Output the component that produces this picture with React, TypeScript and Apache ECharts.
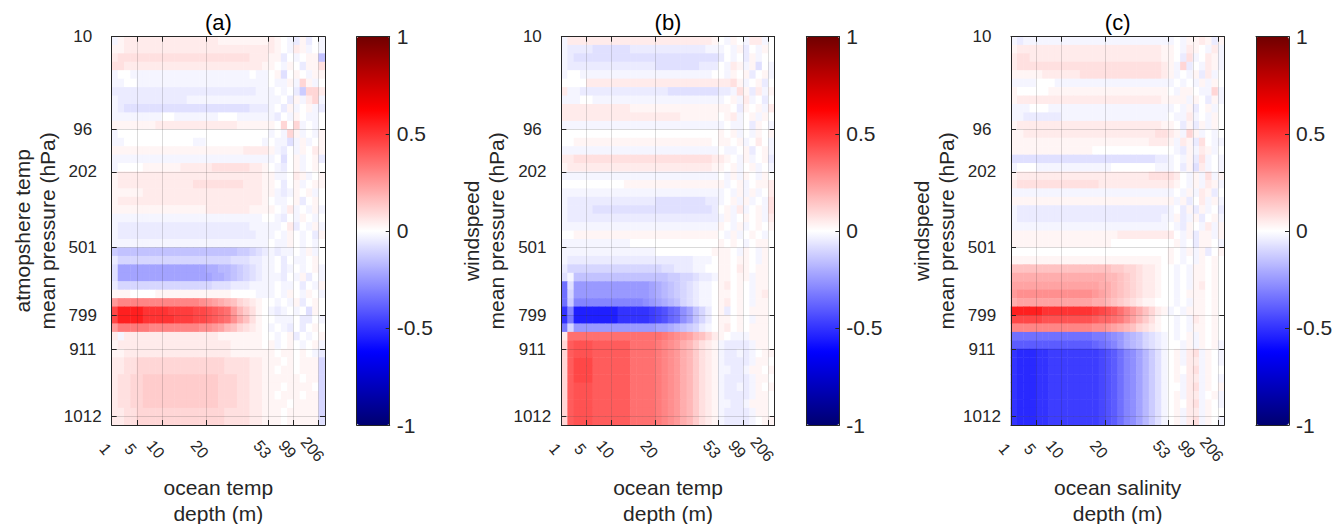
import React, { useEffect, useRef } from "react";
import * as echarts from "echarts";

// ---------- data ----------
const N_COLS = 34; // ocean depth levels
const N_ROWS = 46; // atmosphere pressure levels
const DEPTH_TICKS = [0, 4, 8, 15, 25, 29, 33];
const DEPTH_LABELS = ["1", "5", "10", "20", "53", "99", "206"];
const PRES_TICKS = [0, 11, 16, 25, 33, 37, 45];
const PRES_LABELS = ["10", "96", "202", "501", "799", "911", "1012"];
const CBAR_MIN = -1;
const CBAR_MAX = 1;
const TITLES = ["(a)", "(b)", "(c)"];
const Y_NAMES = [
  "atmopshere temp\nmean pressure (hPa)",
  "windspeed\nmean pressure (hPa)",
  "windspeed\nmean pressure (hPa)",
];
const X_NAMES = ["ocean temp\ndepth (m)", "ocean temp\ndepth (m)", "ocean salinity\ndepth (m)"];

// correlation cells, one string per pressure level (top to bottom), one char per depth level
// '.' = 0, 'A'..'X' = +0.025..+0.6, 'a'..'x' = -0.025..-0.6
const STEP = 0.025;

const PANEL_A = [
  "aABBBBBBBBBBBBBBBAAAAAAAA" + "BA.abAb.a",
  "AABBBBBBBBBBBBBBBBBBBBBBB" + "BA.aBAa.a",
  "BCCCCCCCCCCCCCCCCCCCCCBBB" + "AAb.a.AAf",
  "CCBBBBBBBBBBBBBBBBBBBBBBA" + "A.aA.bAAC",
  "a..aaaaaaaaaaaaaaaaaaa.aa" + ".Ac.A.aAA",
  "aa..aaaaaaaaaaaaaaaaaaaaa" + ".aaAaDAa.",
  "bbbbbbbbbbbbbbbbbbbbbbbaa" + "a.a.beDDB",
  "abbbbbbbbbbbaaaaaaaaaaaaa" + "aa.bAaBDa",
  "abccccccccccccccccccccbbb" + "a.bAa.Aab",
  "aaaaaaaa..aaaaaaa...aaaaa" + "ab.aA.aa.",
  "AAAAAAABBBBBBBBBBBBBAAAAA" + "A.D.Da.a.",
  "a........................" + "a.aDAa.aA",
  "aa...........aa.........a" + ".aacaAa.A",
  "AAAAAAAAAAAAAAAAAAAAABBBB" + "Aab.aA.BA",
  "aaaaaaaaaaaaaaaaaaaaaaaaa" + "a.c.Aa.Ab",
  "a....AAAAAABBBBBCCCCCCBBA" + ".ab.Aa.A.",
  "ABBBBBBBBBBBBBBBBBBBBBBBA" + "Aaa.BAa.A",
  "ABBBBBBBBBBBBCCCCCCCCBBBA" + "A.b.Aa.AA",
  "AAAAABBBBBBBBBBBBBBBBBBBA" + "AabaA.Aa.",
  "ABBBBBBBBBBBBBBBBBBBBBBBA" + ".aa.Ab.A.",
  "AAAAAAAAAAAAAAABBBBBBBAAA" + "A.aBa.aAa",
  "aaaaaaaaaaaaaaaaaaaaaaaa." + ".ab.aA.a.",
  "abbbbbbbbbbbbbbbbbbbbbaaa" + "aa.Bb.aAa",
  "abbbbbbbbbbbbbbbbbbbbbbaa" + "a.aA.a.bA",
  "aaaaaaaaaaaaaaaaaaaaaaaaa" + ".aaA.a.a.",
  "efffffffffffffffffffeedcb" + "abaa.aAa.",
  "bddddddddddddddddddcccbba" + "a.b.aa.A.",
  "ciiiiiiiiiiiiiihhggfedcba" + "a.ba.a.Aa",
  "ciiiiiiiiiiiiiiihhgfedcba" + "aab.aAb.a",
  "bdddddddddddddddcccbbbaaa" + "a.aa.b.aA",
  "AAA....AAAAAAAAAAAA....aa" + "a.aA.aA.a",
  "JLLLLLLLLLLLLLKJIHGFDCBA." + ".a.aAb.A.",
  "RVVVVTTTTSSSSRRQPONJGECA." + "aba.a.cA.",
  "RVVVVTTTTTSSSRRQPONKHFCA." + ".aaa.bb.a",
  "JMMMMMLLLLLLLLKKJIGFDCBA." + "a.ab.b.A.",
  "BaBBBBBBBBBBBBBBBAAAAAAA." + ".a.Ab.a.A",
  "ABBBBBBBBBBBBBBBBBBAAAAA." + "Aa.A.a.Aa",
  "AABBBBBBBBBBBBBBBBBAAAAAA" + "A.AA.A.ab",
  "BBCCDDDDDDDDDDDDDDCCCCBBA" + "AA.A.AAAd",
  "BBCCDDDDDDDDDDDDDDCCCCBBA" + "A.AA.AAAd",
  "BCCDDEEEEEEEEEEEEDDDCCBBA" + "AAAAA.AAd",
  "BCCDDEEEEEEEEEEEEDDDCCBBA" + "AA.AAAA.d",
  "BCCDDEEEEEEEEEEEEDDDCCBBA" + "A.AAA.AAd",
  "BCCDDEEEEEEEEEEEEDDDCCBBA" + "AAA.AAAAd",
  "BBCCDDDDDDDDDDDDDDCCCCBBA" + "AA.AAAAAd",
  "BBCCDDDDDDDDDDDDDDCCCCBBA" + "AA.AAAAAc",
];

const PANEL_B = [
  "aBBBBBBBBBBBBBBBBBBBBBBBA" + ".aA.aBBa.",
  "abbbbccccccbbbbbbbbbbbbaa" + "a.aAb.aA.",
  "abccccccccccccccccccccccc" + "b.a.bAa..",
  "abbbbbbbbbbbbbbcccccccbbb" + ".aBAaAc.a",
  "a..aaaaaaaaaaaaaaaaaaaaa." + ".aA.Ab.Aa",
  "....BBBBBBBBBBBBBBBBBBBBB" + "BBCAa.Ab.",
  "Baabbbbbbbbbbbbbbcccccccc" + "bbaCAbBaA",
  "aaa..aaaaaaaaaaaaaaaaaaaa" + "a.AaBa.b.",
  "BBBBBBBBBBBAAAAAAAAAAAAAA" + "AA.bA.AaB",
  "BBBBBBBBBBBBBBBBBBBAAAAAA" + ".ABa.AaA.",
  "aaaaaaaaaaaaaaaaaaaaaaaaa" + "a.aa.bA.a",
  "........................." + "A.Aa.aA.A",
  "..AAAAAAAAAAAAAAAAAAAAAA." + "AA.Aa.B.a",
  "aaaaaaaaaaaaaaaaaaaaaaaaa" + ".aa.Ab.Aa",
  "BBCCCCCCCCCCCCCCCCCCCCCCB" + "BA.aAa.Ab",
  "ABBBBBBBBBBBBBBBBBBBBBBBA" + "A.Aa.Aa.a",
  "aaaaaaaaaaaaaaaaaaaaaaaaa" + ".aAaA.aA.",
  "..........AAAAAAAAAAAAAAA" + "Aa.Aa.AAB",
  "aaaaaaaaaaaaaaaaaaaaaaaaa" + "a.aAaAa.B",
  "abbbbbbbbbbbbbbccccccccbb" + "a.AaAa.aC",
  "abbbbcccccccccccccccccccb" + ".AaBa.AaC",
  "abbbbbbbbbbbbbbbbbbbbbbbb" + "aAa.A.AaB",
  "aaaaaaaaaaaaaaaaaaaaaaaaa" + "A.aAa.A.A",
  "..AAAAAAAAAAAAAAAAAAAAAAA" + ".aAa.A.a.",
  "aaaaaaaaaaa.............." + "A.A.a.AA.",
  "aaaaaaaaaaaaaaa.........A" + "AA.aA.aA.",
  "abbbbbbbbbbbbbbbbbbbbaaa." + "AA.AA.aA.",
  "bdddddddddddddddccbbbaa.." + "AA.BA.AA.",
  "cafffffffffffffffeeddcbba" + "AA.AAaAA.",
  "ncjjjjjjjjjjjjihgfedcbaa." + "AB.A.aAA.",
  "ndjjjjjjjjjjjjihgfedcbaa." + "AA.A.aAB.",
  "nelllllllllllkjihgfdcbaa." + "AB.A.aAA.",
  "tlvvvvvvvtttttsrqonkifdb." + "Ab.A.AAA.",
  "tmvvvvvvvtttttsrqonkifdb." + "AA.A.aAA.",
  "mdjjjjjjjjjjjjjiihgfedba." + "AB.A.AAA.",
  "BNNNNNNNNNNNNNNNMLKJIGFDB" + "A.aaaAAA.",
  "DPQQQPPPPPPNNNNMLKJHGECBA" + "abbbbaAA.",
  "DPQQQPPPPPPNNNNMLKJHGECBA" + "abbaba.AA",
  "DPRRRPPPPPPNNNNMLKJHGECBA" + "abbbbaAA.",
  "DPRRRPPPPPPNNNNMLKJHGECBA" + "aabbaAA.A",
  "DPRRRPPPPPPNNNNMLKJHGECBA" + "abbbbaAA.",
  "DPQQQPPPPPPNNNNMLKJHGECBA" + "abbabaA.A",
  "DPQQQPPPPPPNNNNMLKJHGECBA" + "abbbbaAA.",
  "DPQQQPPPPPPNNNNMLKJHGECBA" + "aabbaAAA.",
  "DPQQQPPPPPPNNNNMLKJHGECBA" + "abbbbaAA.",
  "DPQQQPPPPPPNNNNMLKJHGECBA" + "abbbba.AA",
];

const PANEL_C = [
  "abaaaaaaaaaaaaaaaaaaaaaaa" + "a.aAABAbA",
  "ABBBBBBBBBBBBBBBBBBBBBBBA" + "A.aBA.aBa",
  "BCCBBBBBBBBBBBBBBBBBBBBBA" + "A.bCa.BAa",
  "BCCCCCCCCCCCCCCCCCCCCCCCB" + "AaDb.aBAa",
  "AAAAABBBBBBCCCCCCCCCCCCCB" + "Aa.aAbBa.",
  "aaaa...aaaaaaaaaaaaaaaaaa" + "a.a.aAaA.",
  "A.....AAAAAAAAAAAAAAAAAAA" + ".aAA.aaDa",
  "ABBBBBBBBBBBBBBBBBBBBBBBA" + "AAAaA.bAa",
  "aaa...aaaaaaaaaaaaaaaaaaa" + "a.aAb.Aa.",
  "aabbbbbbaaaaaaaaaaaaaaaaa" + ".aaBa.aA.",
  "ABBBBBBBBBBBBBBBBBBBBBBBA" + "A.bAbAaA.",
  "AABBBBBBBBBBBBBBBBBBBBBCC" + "BAaDAa.a.",
  "AAAAAAAAAAAAAAAAAAAAAABBB" + "AaBAbC.aa",
  "AAAAAAAAAAAAA............" + ".abAaBAa.",
  "cccccccccccccccccccccccbb" + "a.aAbCa.a",
  "a...aaaaaaaaaaaa.......aa" + "a.bAcBa.a",
  "ABBBBBBBBBBBBBBBBBBBBBCCC" + "CB.aAaCaA",
  "BCCCCCCCCCCCCCBBBBBBBBBBB" + "BA.aAaBAa",
  "aaaaaaaaaaaaaaaaaaaaaaaaa" + "a.aAaBAb.",
  "AAAAAAAAAAAAAAAAAAAAAAAAA" + "AaAb.BaAa",
  "abbbbbbbbbbbbbbbbbbbbbbbb" + "a.bAbAa.b",
  "abbbbbbbbbbbbbbbbbbbbbbba" + "aAbaAb.Aa",
  "aaaaaaaaaaaaaaaaaaaaaaaaa" + ".abA.aBaA",
  "AAAAAAAAAAAAAAAAABBBBBBBB" + "B.aAbAAaA",
  "AAAAAAAAAAAAAAAA........." + ".Aa.bAA.a",
  "........................." + "A.aAaAb.A",
  "AAAAAAAAAAAAAAAAAAAAAAAA." + "A.a.aA.A.",
  "FFFFFFFFFFFFFFFFEEDDCBBA." + ".a.aAA.A.",
  "HHHHHHHHHHHHHHHGGFEDCBBA." + ".a.aAA.A.",
  "IIIIIIIIIIIIIIHHGFEDCBBA." + ".a.aAB.A.",
  "JKKKKKKKKKKKKJIHGFEDCBBA." + ".a.AAA.A.",
  "HIIIIIIIIIIIIHHGFEDCBAA.." + ".a.aAA.A.",
  "VVVVVTTTTTTTTSRQPNLJHFDBA" + "a.aAAA.A.",
  "RRRRRQQQQQQQQPOONMKIGECA." + ".a.aBA.A.",
  "LLLLLLLLLLLLLKKJIHGFDCBA." + ".a.aAA.A.",
  "nnnnnnnnnnnnnmmlkjhgfdcba" + ".a.AaA.A.",
  "ppppppppppppponmljhgfdcba" + "..aAaA.Aa",
  "tuuuttssssssssrqpnlkigeca" + ".AaBCaA.a",
  "tuuuttssssssssrqpnlkigeca" + ".AaBBaA.a",
  "tuuuttssssssssrqpnlkigeca" + ".A.BCaA..",
  "tuuuttssssssssrqpnlkigeca" + ".AaBBaA.a",
  "tuuuttssssssssrqpnlkigeca" + "..aBCaA.A",
  "tuuuttssssssssrqpnlkigeca" + ".AaBBa.Aa",
  "tuuuttssssssssrqpnlkigeca" + ".A.BCaA.a",
  "tuuuttssssssssrqpnlkigeca" + ".AaBBaA..",
  "tuuuttssssssssrqpnlkigeca" + ".AaBCaA.a",
];

const PANELS = [PANEL_A, PANEL_B, PANEL_C];

// ---------- styling ----------
const FONT = "'Liberation Sans', Arial, Helvetica, sans-serif";
const AXIS_COLOR = "#262626";
const GRID_COLOR = "rgba(38,38,38,0.17)";
const L0 = 111.7;
const DX = 449.65;
const TOP = 36.7;
const PW = 213.3;
const PH = 388.3;
const CB_L0 = 356.7;
const CB_W = 33;

// diverging colour ramp anchors
const RAMP: [number, number[]][] = [
  [-1, [0, 0, 112]],
  [-0.625, [0, 0, 255]],
  [0, [255, 255, 255]],
  [0.625, [255, 0, 0]],
  [1, [112, 0, 0]],
];
function rampColor(v: number): string {
  for (let i = 0; i < RAMP.length - 1; i++) {
    const [a, ca] = RAMP[i];
    const [b, cb] = RAMP[i + 1];
    if (v >= a && v <= b) {
      const t = (v - a) / (b - a);
      const c = ca.map((x, k) => Math.round(x + (cb[k] - x) * t));
      return `rgb(${c[0]},${c[1]},${c[2]})`;
    }
  }
  return "#fff";
}
const CMAP: string[] = [];
for (let i = 0; i <= 80; i++) CMAP.push(rampColor(CBAR_MIN + (i / 80) * (CBAR_MAX - CBAR_MIN)));

function decodeRow(s: string): number[] {
  const out: number[] = [];
  for (let i = 0; i < N_COLS; i++) {
    const ch = s[i] ?? ".";
    const c = ch.charCodeAt(0);
    let v = 0;
    if (c >= 65 && c <= 90) v = (c - 64) * STEP;
    else if (c >= 97 && c <= 122) v = -(c - 96) * STEP;
    out.push(+v.toFixed(3));
  }
  return out;
}

function buildOption() {
  const grid: any[] = [];
  const xAxis: any[] = [];
  const yAxis: any[] = [];
  const series: any[] = [];
  const visualMap: any[] = [];
  const title: any[] = [];
  const colCats = Array.from({ length: N_COLS }, (_, i) => String(i));
  const rowCats = Array.from({ length: N_ROWS }, (_, i) => String(i));
  const lineStyle = { color: AXIS_COLOR, width: 1 };

  for (let p = 0; p < 3; p++) {
    const left = L0 + DX * p;
    grid.push({ left, top: TOP, width: PW, height: PH, outerBoundsMode: "none", containLabel: false });
  }
  for (let p = 0; p < 3; p++) {
    grid.push({ left: CB_L0 + DX * p, top: TOP, width: CB_W, height: PH, outerBoundsMode: "none", containLabel: false });
  }

  for (let p = 0; p < 3; p++) {
    const xCat = xAxis.length;
    xAxis.push({ type: "category", gridIndex: p, data: colCats, show: false });
    xAxis.push({
      type: "value",
      gridIndex: p,
      min: 0,
      max: N_COLS,
      position: "bottom",
      z: 10,
      axisLine: { show: true, onZero: false, lineStyle },
      axisTick: { show: true, inside: true, length: 5, customValues: DEPTH_TICKS, lineStyle },
      axisLabel: {
        show: true,
        customValues: DEPTH_TICKS,
        formatter: (v: number) => DEPTH_LABELS[DEPTH_TICKS.indexOf(v)] ?? "",
        rotate: -50,
        align: "center",
        verticalAlign: "top",
        margin: 19,
        fontSize: 16,
        color: AXIS_COLOR,
        fontFamily: FONT,
      },
      splitLine: { show: true, lineStyle: { color: GRID_COLOR, width: 1 } },
      name: X_NAMES[p],
      nameLocation: "middle",
      nameGap: 49,
      nameMoveOverlap: false,
      nameTextStyle: { fontSize: 21, lineHeight: 26, color: AXIS_COLOR, fontFamily: FONT },
    });
    xAxis.push({
      type: "value",
      gridIndex: p,
      min: 0,
      max: N_COLS,
      position: "top",
      z: 10,
      axisLine: { show: true, onZero: false, lineStyle },
      axisTick: { show: true, inside: true, length: 5, customValues: DEPTH_TICKS, lineStyle },
      axisLabel: { show: false },
      splitLine: { show: false },
    });

    const yCat = yAxis.length;
    yAxis.push({ type: "category", gridIndex: p, data: rowCats, inverse: true, show: false });
    yAxis.push({
      type: "value",
      gridIndex: p,
      min: 0,
      max: N_ROWS,
      inverse: true,
      position: "left",
      z: 10,
      axisLine: { show: true, onZero: false, lineStyle },
      axisTick: { show: true, inside: true, length: 5, customValues: PRES_TICKS, lineStyle },
      axisLabel: {
        show: true,
        customValues: PRES_TICKS,
        formatter: (v: number) => PRES_LABELS[PRES_TICKS.indexOf(v)] ?? "",
        align: "center",
        margin: 29,
        fontSize: 17,
        color: AXIS_COLOR,
        fontFamily: FONT,
      },
      splitLine: { show: true, lineStyle: { color: GRID_COLOR, width: 1 } },
      name: Y_NAMES[p],
      nameLocation: "middle",
      nameGap: 52,
      nameMoveOverlap: false,
      nameTextStyle: { fontSize: 21, lineHeight: 25, color: AXIS_COLOR, fontFamily: FONT },
    });
    yAxis.push({
      type: "value",
      gridIndex: p,
      min: 0,
      max: N_ROWS,
      inverse: true,
      position: "right",
      z: 10,
      axisLine: { show: true, onZero: false, lineStyle },
      axisTick: { show: true, inside: true, length: 5, customValues: PRES_TICKS, lineStyle },
      axisLabel: { show: false },
      splitLine: { show: false },
    });

    const data: number[][] = [];
    PANELS[p].forEach((row, r) => {
      decodeRow(row).forEach((v, c) => data.push([c, r, v]));
    });
    series.push({
      type: "heatmap",
      name: TITLES[p],
      xAxisIndex: xCat,
      yAxisIndex: yCat,
      data,
      progressive: 0,
      emphasis: { disabled: true },
      itemStyle: { borderWidth: 0 },
    });

    visualMap.push({
      type: "continuous",
      seriesIndex: p,
      min: CBAR_MIN,
      max: CBAR_MAX,
      inRange: { color: CMAP },
      orient: "vertical",
      left: CB_L0 + DX * p,
      top: TOP,
      itemWidth: CB_W,
      itemHeight: PH,
      padding: 0,
      calculable: false,
      hoverLink: false,
      realtime: false,
    });

    title.push({
      text: TITLES[p],
      left: L0 + DX * p + PW / 2,
      top: 11,
      textAlign: "center",
      padding: 0,
      textStyle: { fontSize: 22, fontWeight: "normal", color: "#000", fontFamily: FONT },
    });
  }

  // colour bar frames and tick labels
  for (let p = 0; p < 3; p++) {
    const g = 3 + p;
    xAxis.push({
      type: "value", gridIndex: g, min: 0, max: 1, position: "bottom", z: 10,
      axisLine: { show: true, onZero: false, lineStyle },
      axisTick: { show: false }, axisLabel: { show: false }, splitLine: { show: false },
    });
    xAxis.push({
      type: "value", gridIndex: g, min: 0, max: 1, position: "top", z: 10,
      axisLine: { show: true, onZero: false, lineStyle },
      axisTick: { show: false }, axisLabel: { show: false }, splitLine: { show: false },
    });
    yAxis.push({
      type: "value", gridIndex: g, min: CBAR_MIN, max: CBAR_MAX, position: "left", z: 10,
      axisLine: { show: true, onZero: false, lineStyle },
      axisTick: { show: false }, axisLabel: { show: false }, splitLine: { show: false },
    });
    yAxis.push({
      type: "value", gridIndex: g, min: CBAR_MIN, max: CBAR_MAX, interval: 0.5, position: "right", z: 10,
      axisLine: { show: true, onZero: false, lineStyle },
      axisTick: { show: true, inside: true, length: 4, lineStyle },
      axisLabel: { show: true, margin: 7, fontSize: 21, color: AXIS_COLOR, fontFamily: FONT },
      splitLine: { show: false },
    });
  }

  return {
    animation: false,
    backgroundColor: "#ffffff",
    textStyle: { fontFamily: FONT },
    title,
    grid,
    xAxis,
    yAxis,
    visualMap,
    series,
  };
}

export default function App() {
  const ref = useRef<HTMLDivElement>(null);
  useEffect(() => {
    document.body.style.margin = "0";
    if (!ref.current) return;
    const chart = echarts.init(ref.current, undefined, { renderer: "svg" });
    chart.setOption(buildOption() as any);
    return () => chart.dispose();
  }, []);
  return <div ref={ref} style={{ width: 1336, height: 524 }} />;
}
